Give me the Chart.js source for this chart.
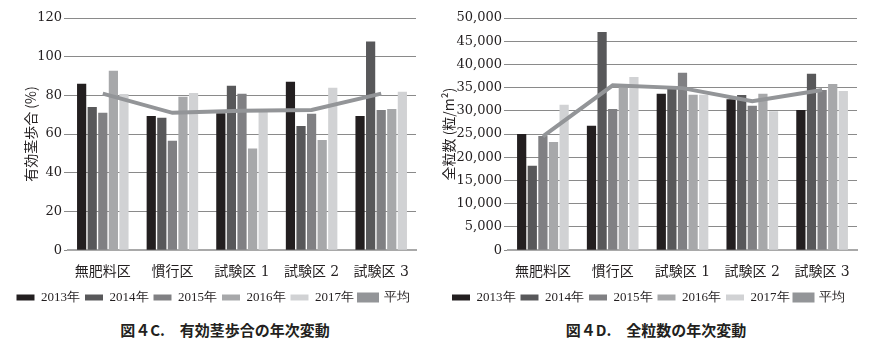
<!DOCTYPE html>
<html>
<head>
    <meta charset="utf-8">
    <script src="https://cdn.jsdelivr.net/npm/chart.js"></script>
    <title>年次変動</title>
    <style>
        body { margin: 0; background: #fff; width: 885px; height: 353px; position: relative; overflow: hidden; }
        .panel { position: absolute; top: 0; height: 314px; }
        .caption {
            position: absolute; top: 319px; text-align: center;
            font-family: "Noto Sans CJK JP", sans-serif; font-weight: bold; font-size: 15px; color: #231f20;
        }
    </style>
</head>
<body>

    <div class="panel" style="left:0; width:440px;"><canvas id="chartC"></canvas></div>
    <div class="panel" style="left:440px; width:445px;"><canvas id="chartD"></canvas></div>
    <div class="caption" style="left:0; width:450px;">図４C.　有効茎歩合の年次変動</div>
    <div class="caption" style="left:440px; width:432px;">図４D.　全粒数の年次変動</div>

    <script type="text/javascript">
        const categories = ['無肥料区', '慣行区', '試験区 1', '試験区 2', '試験区 3'];
        const years = ['2013年', '2014年', '2015年', '2016年', '2017年'];
        const yearColors = ['#231f20', '#58585a', '#808083', '#a7a8aa', '#d1d2d4'];
        const avgColor = '#939598';

        // 図4C 有効茎歩合 (%)
        const ratio2013 = [86, 69.4, 70.8, 87, 69.4];
        const ratio2014 = [74, 68.5, 85, 64.2, 107.8];
        const ratio2015 = [71, 56.5, 80.8, 70.5, 72.5];
        const ratio2016 = [92.7, 79.3, 52.5, 57, 73];
        const ratio2017 = [80.7, 81.3, 71.5, 84, 81.9];
        const ratioAvg = [80.9, 71, 72.1, 72.5, 80.9];

        // 図4D 全粒数 (粒/m2)
        const grain2013 = [25000, 26800, 33700, 32500, 30200];
        const grain2014 = [18200, 47000, 34700, 33400, 38000];
        const grain2015 = [24600, 30400, 38200, 31100, 34500];
        const grain2016 = [23300, 35800, 33500, 33700, 35800];
        const grain2017 = [31300, 37300, 33500, 29900, 34300];
        const grainAvg = [24500, 35500, 34900, 32100, 34500];

        const tickFont = { family: '"DejaVu Serif", serif', size: 13 };

        function makeChart(id, series, avg, yMax, yStep, yTitle, leftPad, titlePad, rightPad) {
            const datasets = series.map((d, i) => ({
                type: 'bar',
                label: years[i],
                data: d,
                backgroundColor: yearColors[i],
                borderWidth: 0,
                categoryPercentage: 0.76,
                barPercentage: 0.87,
                order: 2
            }));
            datasets.push({
                type: 'line',
                label: '平均',
                data: avg,
                borderColor: avgColor,
                backgroundColor: avgColor,
                borderWidth: 4,
                pointRadius: 0,
                tension: 0,
                order: 1
            });

            return new Chart(document.getElementById(id), {
                data: { labels: categories, datasets: datasets },
                options: {
                    responsive: true,
                    maintainAspectRatio: false,
                    animation: false,
                    layout: { padding: { top: 18, left: leftPad, right: rightPad, bottom: 0 } },
                    plugins: {
                        tooltip: { enabled: false },
                        legend: {
                            position: 'bottom',
                            labels: {
                                boxWidth: 18,
                                boxHeight: 6,
                                padding: 5,
                                color: '#231f20',
                                font: { family: '"Liberation Serif", serif', size: 13 },
                                sort: (a, b) => a.datasetIndex - b.datasetIndex
                            }
                        }
                    },
                    scales: {
                        x: {
                            afterFit: scale => { scale.height -= 9; },
                            grid: { display: false, drawTicks: false },
                            border: { color: '#a9a9a9', width: 2 },
                            ticks: {
                                color: '#231f20',
                                padding: 14,
                                font: { family: '"DejaVu Serif", "Noto Sans CJK JP", serif', size: 14 }
                            }
                        },
                        y: {
                            min: 0,
                            max: yMax,
                            afterFit: scale => { scale.width = 68 - leftPad; },
                            grid: { color: '#8a8a8a', lineWidth: 1, tickLength: 4 },
                            border: { display: false },
                            ticks: {
                                stepSize: yStep,
                                color: '#231f20',
                                padding: 2,
                                font: tickFont,
                                callback: v => v.toLocaleString('en-US')
                            },
                            title: {
                                display: true,
                                text: yTitle,
                                color: '#231f20',
                                padding: { top: titlePad, bottom: 0 },
                                font: { family: '"Noto Sans CJK JP", sans-serif', size: 14 }
                            }
                        }
                    }
                }
            });
        }

        makeChart('chartC',
            [ratio2013, ratio2014, ratio2015, ratio2016, ratio2017],
            ratioAvg, 120, 20, '有効茎歩合 (%)', 10, 12, 24);
        makeChart('chartD',
            [grain2013, grain2014, grain2015, grain2016, grain2017],
            grainAvg, 50000, 5000, '全粒数 (粒/m²)', 0, 0, 28);
    </script>

</body>
</html>
